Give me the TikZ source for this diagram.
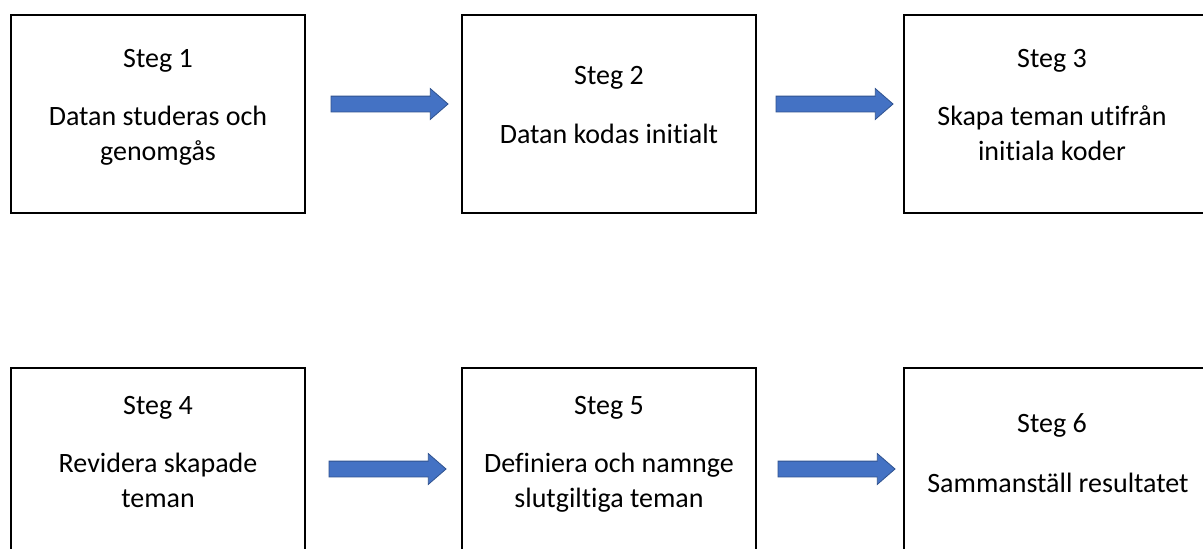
\documentclass[tikz,border=0pt]{standalone}
\usepackage{fontspec}
\setmainfont{Carlito}[Ligatures=NoCommon]
\usetikzlibrary{shapes.arrows}
\definecolor{arrowfill}{HTML}{4472C4}
\definecolor{arrowline}{HTML}{2F528F}
\tikzset{
  stepbox/.style={draw=black, line width=2pt, fill=white, inner sep=0pt, minimum width=294pt, minimum height=198pt},
  widebox/.style={stepbox, minimum width=310pt},
  label/.style={font=\fontsize{28}{35}\selectfont, align=center, anchor=base, inner sep=0pt},
  blockarrow/.style={single arrow, draw=arrowline, fill=arrowfill, line width=0.8pt,
    minimum height=117pt, inner xsep=0pt, inner ysep=7.5pt, single arrow head extend=7.5pt,
    single arrow tip angle=82},
}
\begin{document}
\begin{tikzpicture}[x=1pt,y=-1pt]
\useasboundingbox (0,0) rectangle (1203,549);
\clip (0,0) rectangle (1203,549);
\fill[white] (0,0) rectangle (1203,549);
% boxes
\node[stepbox] (b1) at (158,114) {};
\node[stepbox] (b2) at (609,114) {};
\node[widebox] (b3) at (1059,114) {};
\node[stepbox] (b4) at (158,467) {};
\node[stepbox] (b5) at (609,467) {};
\node[widebox] (b6) at (1059,467) {};
% texts
\node[label] (t1a) at (158,67) {Steg 1};
\node[label] (t1b) at (158,160) {Datan studeras och\\genomgås};
\node[label] (t2a) at (609,84) {Steg 2};
\node[label] (t2b) at (609,143) {Datan kodas initialt};
\node[label] (t3a) at (1052,67) {Steg 3};
\node[label] (t3b) at (1052,160) {Skapa teman utifrån\\initiala koder};
\node[label] (t4a) at (158,414) {Steg 4};
\node[label] (t4b) at (158,507) {Revidera skapade\\teman};
\node[label] (t5a) at (609,414) {Steg 5};
\node[label] (t5b) at (609,507) {Definiera och namnge\\slutgiltiga teman};
\node[label] (t6a) at (1052,432) {Steg 6};
\node[label] (t6b) at (1058,492) {Sammanställ resultatet};
% arrows
\node[blockarrow] (a1) at (385,104) {};
\node[blockarrow] (a2) at (830,104) {};
\node[blockarrow] (a4) at (383,469) {};
\node[blockarrow] (a5) at (832,469) {};
\end{tikzpicture}
\end{document}
